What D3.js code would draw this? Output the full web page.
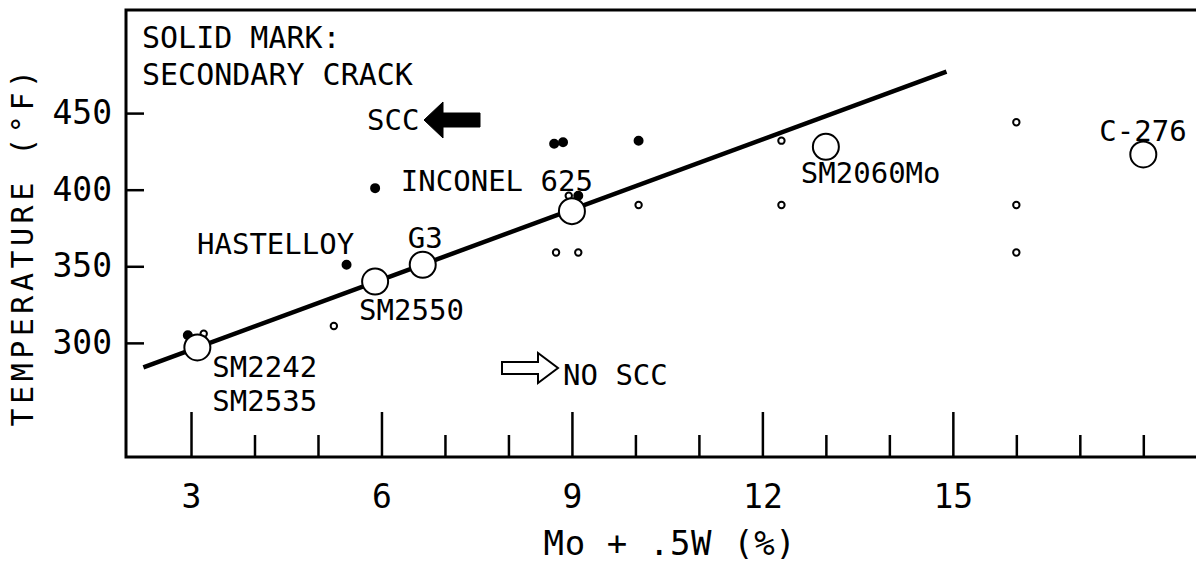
<!DOCTYPE html>
<html>
<head>
<meta charset="utf-8">
<script src="https://cdn.jsdelivr.net/npm/d3@7"></script>
<style>
  body { margin: 0; background: #fff; }
  text { font-family: "DejaVu Sans Mono", monospace; fill: #000; }
</style>
</head>
<body>
<script>
// alloys tested (big open circles) - Mo + .5W (%) vs temperature (F)
let alloyNames = ["SM2242", "SM2550", "G3", "INCONEL 625", "SM2060Mo", "C-276"];
let alloyMo = [3.1, 5.9, 6.65, 9.0, 13.0, 18.0];
let alloyTemp = [297, 340, 351, 386, 428, 423];

// individual test results, crack = 1 -> solid mark (secondary crack)
let testMo = [2.95, 3.2, 5.25, 5.45, 5.9, 8.72, 8.86, 10.05, 8.95, 9.1, 10.05, 8.75, 9.1, 12.3, 12.3, 16.0, 16.0, 16.0];
let testTemp = [305, 306, 311, 351, 401, 430, 431, 432, 396, 396, 390, 359, 359, 432, 390, 444, 390, 359];
let testCrack = [1, 0, 0, 1, 1, 1, 1, 1, 0, 1, 0, 0, 0, 0, 0, 0, 0, 0];

// boundary line SCC / no SCC
let fitMo = [2.25, 14.9];
let fitTemp = [284, 477];

// ticks
let xMajor = [3, 6, 9, 12, 15];
let xMinor = [4, 5, 7, 8, 10, 11, 13, 14, 16, 17, 18];
let yTicks = [300, 350, 400, 450];

let w = 1196, h = 566;
let margin = {top: 10, right: 0, bottom: 109, left: 126};
let width = w - margin.left - margin.right, height = h - margin.top - margin.bottom;

let x = d3.scaleLinear().domain([1.976, 18.83]).range([0, width]);
let y = d3.scaleLinear().domain([225.5, 517.3]).range([height, 0]);

let svg = d3.select("body").append("svg").attr("width", w).attr("height", h);
let g = svg.append("g").attr("transform", "translate(" + margin.left + "," + margin.top + ")");

// frame (no right side)
g.append("path")
  .attr("d", "M" + (width + 5) + ",0H0V" + height + "H" + (width + 5))
  .attr("fill", "none").attr("stroke", "#000").attr("stroke-width", 3);

// x axis, major + minor ticks pointing up into the plot
let xa = g.append("g").attr("transform", "translate(0," + height + ")")
  .call(d3.axisBottom(x).tickValues(xMajor).tickSize(-45).tickFormat(d3.format("d")));
xa.select(".domain").remove();
xa.selectAll("line").attr("stroke-width", 2.5);
xa.selectAll("text").attr("y", 51).attr("dy", null)
  .attr("font-family", "DejaVu Sans Mono").attr("font-size", 33);

let xm = g.append("g").attr("transform", "translate(0," + height + ")")
  .call(d3.axisBottom(x).tickValues(xMinor).tickSize(-22).tickFormat(""));
xm.select(".domain").remove();
xm.selectAll("line").attr("stroke-width", 2.5);

// y axis
let ya = g.append("g")
  .call(d3.axisLeft(y).tickValues(yTicks).tickSize(-18).tickPadding(14).tickFormat(d3.format("d")));
ya.select(".domain").remove();
ya.selectAll("line").attr("stroke-width", 2.5);
ya.selectAll("text").attr("font-family", "DejaVu Sans Mono").attr("font-size", 33);

// axis titles
svg.append("text")
  .attr("x", margin.left + width / 2 + 9).attr("y", 555)
  .attr("text-anchor", "middle").attr("font-size", 34).attr("letter-spacing", 0.6)
  .text("Mo + .5W (%)");

svg.append("text")
  .attr("transform", "translate(33,246) rotate(-90)")
  .attr("text-anchor", "middle").attr("font-size", 30).attr("letter-spacing", 4.5)
  .text("TEMPERATURE (°F)");

// boundary line
g.append("path")
  .datum(fitMo.map(function (d, i) { return [d, fitTemp[i]]; }))
  .attr("d", d3.line().x(function (d) { return x(d[0]); }).y(function (d) { return y(d[1]); }))
  .attr("stroke", "#000").attr("stroke-width", 4.5).attr("fill", "none");

// test marks
g.selectAll(".test").data(testMo).enter().append("circle")
  .attr("class", "test")
  .attr("cx", function (d) { return x(d); })
  .attr("cy", function (d, i) { return y(testTemp[i]); })
  .attr("r", function (d, i) { return testCrack[i] ? 4 : 3.2; })
  .attr("fill", function (d, i) { return testCrack[i] ? "#000" : "#fff"; })
  .attr("stroke", "#000").attr("stroke-width", 2);

// alloy circles
g.selectAll(".alloy").data(alloyMo).enter().append("circle")
  .attr("class", "alloy")
  .attr("cx", function (d) { return x(d); })
  .attr("cy", function (d, i) { return y(alloyTemp[i]); })
  .attr("r", 13)
  .attr("fill", "#fff").attr("stroke", "#000").attr("stroke-width", 2);

// alloy labels: offsets from circle centre
let labelOffset = {
  "SM2242": [15, 30, "start"],
  "SM2550": [-16, 38, "start"],
  "G3": [-15, -17, "start"],
  "INCONEL 625": [21, -20, "end"],
  "SM2060Mo": [-25, 36, "start"],
  "C-276": [-44, -13, "start"]
};
g.selectAll(".alabel").data(alloyNames).enter().append("text")
  .attr("class", "alabel")
  .attr("x", function (d, i) { return x(alloyMo[i]) + labelOffset[d][0]; })
  .attr("y", function (d, i) { return y(alloyTemp[i]) + labelOffset[d][1]; })
  .attr("text-anchor", function (d) { return labelOffset[d][2]; })
  .attr("font-size", 29)
  .text(function (d) { return d; });

// second name on the first circle
g.append("text")
  .attr("x", x(alloyMo[0]) + 15).attr("y", y(alloyTemp[0]) + 64)
  .attr("font-size", 29).text("SM2535");

// free annotations
g.append("text").attr("x", 16).attr("y", 38).attr("font-size", 30).text("SOLID MARK:");
g.append("text").attr("x", 16).attr("y", 75).attr("font-size", 30).text("SECONDARY CRACK");
g.append("text").attr("x", 71).attr("y", 244).attr("font-size", 29).text("HASTELLOY");

// SCC filled arrow (pointing left)
let sccX = 241, sccY = 110;
g.append("text").attr("x", sccX).attr("y", sccY + 10).attr("font-size", 29).text("SCC");
g.append("path")
  .attr("d", "M" + (sccX + 57) + "," + sccY + " l19,-18 v11 h37 v14 h-37 v11 z")
  .attr("fill", "#000").attr("stroke", "#000").attr("stroke-width", 1);

// NO SCC open arrow (pointing right)
let nsX = 376, nsY = 358;
g.append("path")
  .attr("d", "M" + nsX + "," + (nsY - 6) + " h36 v-9 l20,15 l-20,15 v-9 h-36 z")
  .attr("fill", "#fff").attr("stroke", "#000").attr("stroke-width", 2);
g.append("text").attr("x", nsX + 61).attr("y", nsY + 17).attr("font-size", 29).text("NO SCC");
</script>
</body>
</html>
